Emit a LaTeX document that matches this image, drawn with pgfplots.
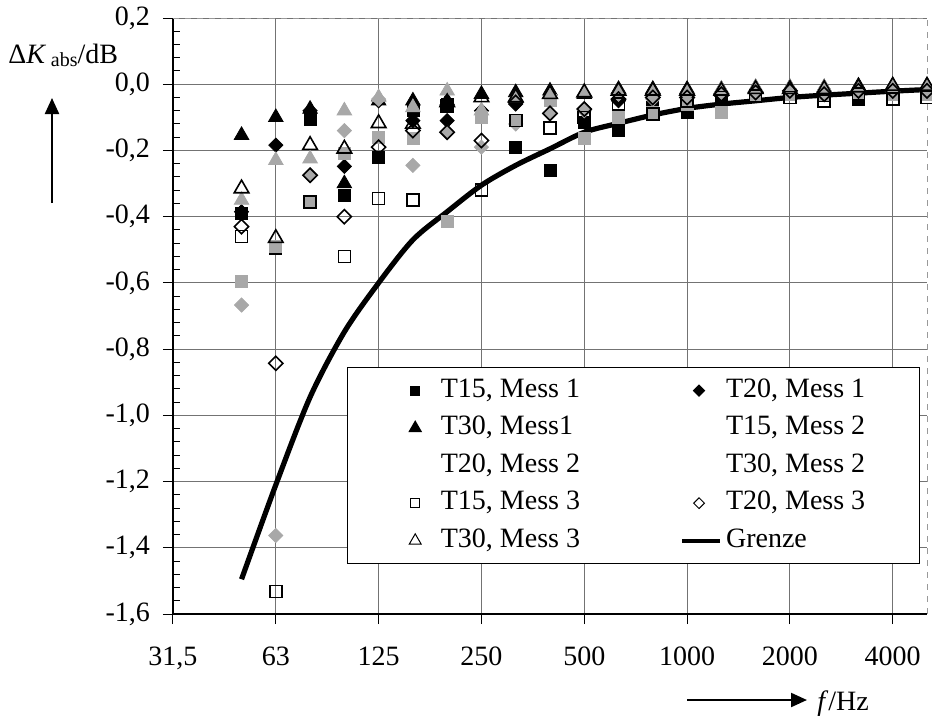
\documentclass[border=0pt]{standalone}
\usepackage{fontspec}
\setmainfont{Liberation Serif}
\usepackage{pgfplots}
\pgfplotsset{compat=1.18}
\usetikzlibrary{arrows.meta}
\definecolor{mgray}{gray}{0.66}
\pgfplotsset{
 legmark/.style={legend image code/.code={\path (0pt,0pt) (19pt,0pt); \draw[mark repeat=2,mark phase=2,##1] plot coordinates {(0pt,0pt) (8.5pt,0pt) (17pt,0pt)};}},
 legnone/.style={legend image code/.code={\path (0pt,0pt) (19pt,0pt);}},
 legline/.style={legend image code/.code={\draw[##1] (0pt,0pt) -- (19pt,0pt);}},
}
\begin{document}
\begin{tikzpicture}
\useasboundingbox (-86.5pt,-53pt) rectangle (379.5pt,307pt);
\begin{axis}[
  at={(0pt,0pt)}, anchor=south west,
  scale only axis, width=377pt, height=298pt,
  xmin=0, xmax=22, ymin=-1.6, ymax=0.2,
  axis lines*=left,
  axis line style={line width=0.6pt},
  xtick={0,3,6,9,12,15,18,21},
  xticklabels={{31,5},63,125,250,500,1000,2000,4000},
  ytick={-1.6,-1.4,-1.2,-1.0,-0.8,-0.6,-0.4,-0.2,0,0.2},
  yticklabels={{-1,6},{-1,4},{-1,2},{-1,0},{-0,8},{-0,6},{-0,4},{-0,2},{0,0},{0,2}},
  minor y tick num=4,
  tick align=outside,
  major tick length=5pt, minor tick length=3.5pt,
  every minor tick/.append style={xshift=3.5pt},
  tick style={black, line width=0.5pt},
  grid=major,
  major grid style={black!55, line width=0.5pt},
  tick label style={font=\fontsize{14}{16}\selectfont},
  xticklabel style={yshift=-8pt},
  yticklabel style={xshift=-3pt},
  clip=false,
  legend columns=2,
  legend cell align=left,
  legend style={at={(0.2308,0.4144)}, anchor=north west,
    draw=black, line width=0.6pt, fill=white,
    font=\fontsize{14}{16}\selectfont,
    inner xsep=25pt, inner ysep=3.25pt,
    row sep=2.25pt,
    nodes={inner sep=2pt, text height=9.5pt, text depth=3pt},
    /tikz/every even column/.append style={column sep=48pt}},
]
\draw[black!40, dashed, line width=0.4pt] (rel axis cs:0,1) -- (rel axis cs:1,1) -- (rel axis cs:1,0);

% T15, Mess 1
\addplot[forget plot, only marks, mark=square*, black, mark size=3pt] coordinates {
(2,-0.39) (3,-0.495) (4,-0.105) (5,-0.335) (6,-0.22) (7,-0.08) (8,-0.06) (9,-0.10) (10,-0.19) (11,-0.26) (12,-0.115) (13,-0.14) (14,-0.07) (15,-0.085) (16,-0.05) (17,-0.03) (18,-0.03) (19,-0.035) (20,-0.045) (21,-0.03) (22,-0.03)};
% T20, Mess 1
\addplot[forget plot, only marks, mark=square*, mark options={rotate=45}, black, mark size=2.5pt] coordinates {
(2,-0.385) (3,-0.184) (4,-0.08) (5,-0.248) (6,-0.05) (7,-0.11) (8,-0.11) (9,-0.08) (10,-0.06) (11,-0.04) (12,-0.075) (13,-0.05) (14,-0.04) (15,-0.035) (16,-0.035) (17,-0.025) (18,-0.02) (19,-0.025) (20,-0.02) (21,-0.02) (22,-0.02)};
% T30, Mess1
\addplot[forget plot, only marks, mark=triangle*, black, mark size=4.2pt] coordinates {
(2,-0.154) (3,-0.10) (4,-0.075) (5,-0.30) (6,-0.05) (7,-0.05) (8,-0.05) (9,-0.03) (10,-0.025) (11,-0.02) (12,-0.03) (13,-0.015) (14,-0.015) (15,-0.015) (16,-0.015) (17,-0.01) (18,-0.01) (19,-0.01) (20,-0.005) (21,-0.005) (22,-0.005)};
% T15, Mess 2
\addplot[forget plot, only marks, mark=square*, mgray, mark size=3pt] coordinates {
(2,-0.595) (3,-0.49) (4,-0.355) (5,-0.21) (6,-0.16) (7,-0.165) (8,-0.415) (9,-0.10) (10,-0.11) (11,-0.05) (12,-0.163) (13,-0.10) (14,-0.085) (15,-0.06) (16,-0.085) (17,-0.03) (18,-0.03) (19,-0.03) (20,-0.03) (21,-0.03) (22,-0.03)};
% T20, Mess 2
\addplot[forget plot, only marks, mark=square*, mark options={rotate=45}, mgray, mark size=2.5pt] coordinates {
(2,-0.667) (3,-1.363) (4,-0.275) (5,-0.14) (6,-0.045) (7,-0.245) (8,-0.145) (9,-0.19) (10,-0.12) (11,-0.09) (12,-0.08) (13,-0.03) (14,-0.045) (15,-0.03) (16,-0.03) (17,-0.025) (18,-0.02) (19,-0.025) (20,-0.02) (21,-0.02) (22,-0.02)};
% T30, Mess 2
\addplot[forget plot, only marks, mark=triangle*, mgray, mark size=4.2pt] coordinates {
(2,-0.35) (3,-0.23) (4,-0.225) (5,-0.08) (6,-0.04) (7,-0.07) (8,-0.02) (9,-0.08) (10,-0.04) (11,-0.03) (12,-0.025) (13,-0.02) (14,-0.02) (15,-0.02) (16,-0.015) (17,-0.01) (18,-0.01) (19,-0.01) (20,-0.01) (21,-0.01) (22,-0.01)};
% T15, Mess 3
\addplot[forget plot, only marks, mark=square, black, mark size=3pt, mark options={line width=0.8pt}] coordinates {
(2,-0.46) (3,-1.532) (4,-0.355) (5,-0.52) (6,-0.345) (7,-0.35) (8,-0.065) (9,-0.32) (10,-0.11) (11,-0.133) (12,-0.10) (13,-0.06) (14,-0.09) (15,-0.05) (16,-0.04) (17,-0.035) (18,-0.04) (19,-0.05) (20,-0.03) (21,-0.045) (22,-0.04)};
% T20, Mess 3
\addplot[forget plot, only marks, mark=square, mark options={rotate=45, line width=0.8pt}, black, mark size=2.5pt] coordinates {
(2,-0.43) (3,-0.843) (4,-0.275) (5,-0.40) (6,-0.19) (7,-0.14) (8,-0.145) (9,-0.17) (10,-0.055) (11,-0.088) (12,-0.075) (13,-0.045) (14,-0.04) (15,-0.04) (16,-0.03) (17,-0.025) (18,-0.02) (19,-0.03) (20,-0.02) (21,-0.02) (22,-0.02)};
% T30, Mess 3
\addplot[forget plot, only marks, mark=triangle, black, mark size=4.2pt, mark options={line width=0.8pt}] coordinates {
(2,-0.315) (3,-0.465) (4,-0.184) (5,-0.195) (6,-0.118) (7,-0.12) (8,-0.055) (9,-0.04) (10,-0.04) (11,-0.03) (12,-0.025) (13,-0.02) (14,-0.02) (15,-0.02) (16,-0.02) (17,-0.015) (18,-0.015) (19,-0.015) (20,-0.01) (21,-0.005) (22,-0.005)};
% Grenze
\addplot[forget plot, black, line width=2.6pt, smooth, no marks] coordinates {
(2,-1.495) (3,-1.21) (4,-0.945) (5,-0.748) (6,-0.60) (7,-0.47) (8,-0.385) (9,-0.305) (10,-0.245) (11,-0.195) (12,-0.145) (13,-0.118) (14,-0.093) (15,-0.073) (16,-0.06) (17,-0.05) (18,-0.04) (19,-0.033) (20,-0.027) (21,-0.021) (22,-0.016)};

\addlegendimage{only marks, mark=square*, black, mark size=2.2pt, legmark}
\addlegendentry{T15, Mess 1}
\addlegendimage{only marks, mark=square*, mark options={rotate=45}, black, mark size=1.9pt, legmark}
\addlegendentry{T20, Mess 1}
\addlegendimage{only marks, mark=triangle*, black, mark size=3.4pt, legmark}
\addlegendentry{T30, Mess1}
\addlegendimage{legnone}
\addlegendentry{T15, Mess 2}
\addlegendimage{legnone}
\addlegendentry{T20, Mess 2}
\addlegendimage{legnone}
\addlegendentry{T30, Mess 2}
\addlegendimage{only marks, mark=square, black, mark size=2.2pt, mark options={line width=0.5pt}, legmark}
\addlegendentry{T15, Mess 3}
\addlegendimage{only marks, mark=square, mark options={rotate=45, line width=0.5pt}, black, mark size=1.9pt, legmark}
\addlegendentry{T20, Mess 3}
\addlegendimage{only marks, mark=triangle, black, mark size=3.4pt, mark options={line width=0.5pt}, legmark}
\addlegendentry{T30, Mess 3}
\addlegendimage{black, line width=2pt, legline}
\addlegendentry{Grenze}
\end{axis}
\node[anchor=base west, font=\fontsize{14}{16}\selectfont, inner sep=0pt] at (-82.5pt,275.5pt) {Δ\textit{K}\,{\fontsize{10}{12}\selectfont\raisebox{-0.35ex}{abs}}/dB};
\draw[line width=1.1pt, -{Triangle[length=8pt,width=7pt]}] (-60.5pt,205.5pt) -- (-60.5pt,258pt);
\draw[line width=1.1pt, -{Triangle[length=8pt,width=7pt]}] (257pt,-43pt) -- (317pt,-43pt);
\node[anchor=base west, font=\fontsize{14}{16}\selectfont, inner sep=0pt] at (322pt,-48pt) {\textit{f}/Hz};
\end{tikzpicture}
\end{document}
